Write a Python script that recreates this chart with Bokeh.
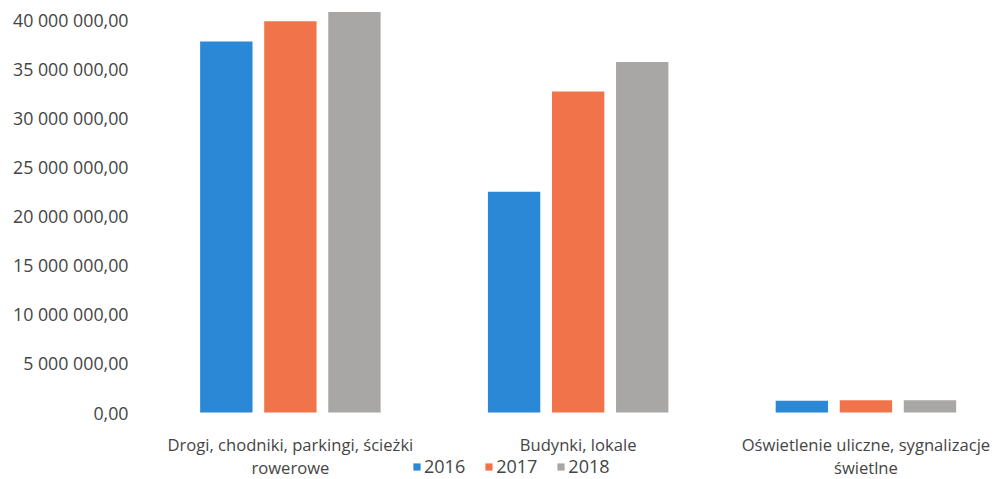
from bokeh.plotting import figure
from bokeh.models import ColumnDataSource, Range1d, FixedTicker, Legend, LegendItem
from bokeh.transform import dodge
from bokeh.core.properties import value
from bokeh.embed import file_html
from bokeh.resources import INLINE

categories = [
    "Drogi, chodniki, parkingi, ścieżki\nrowerowe",
    "Budynki, lokale",
    "Oświetlenie uliczne, sygnalizacje\nświetlne",
]
years = ["2016", "2017", "2018"]
v2016 = [37.8e6, 22.5e6, 1.2e6]
v2017 = [39.85e6, 32.7e6, 1.25e6]
v2018 = [40.8e6, 35.7e6, 1.25e6]
y_ticks = [0, 5e6, 10e6, 15e6, 20e6, 25e6, 30e6, 35e6, 40e6]

colors = ["#2b88d6", "#f1734a", "#a9a7a5"]
FONT = "Open Sans"
TXT = "#454545"

xs = [i + 0.5 for i in range(len(categories))]
src = ColumnDataSource(dict(x=xs, label=categories, base=[0] * len(categories),
                            y2016=v2016, y2017=v2017, y2018=v2018))

p = figure(width=1005, height=479, output_backend="svg", toolbar_location=None,
           x_range=Range1d(0, 2.985), y_range=Range1d(-6.825e6, 41.97e6),
           min_border_left=146, min_border_right=0, min_border_top=0, min_border_bottom=0)
p.outline_line_color = None
p.xgrid.visible = False
p.ygrid.visible = False
p.xaxis.visible = False
p.background_fill_color = "white"
p.border_fill_color = "white"

offsets = [-0.2226, 0.0, 0.2226]
renderers = []
for col, off, c in zip(["y2016", "y2017", "y2018"], offsets, colors):
    r = p.vbar(x=dodge("x", off, range=p.x_range), top=col, width=0.182,
               source=src, fill_color=c, line_color=None)
    renderers.append(r)

# category labels under the groups
p.text(x="x", y="base", text="label", source=src, text_align="center",
       text_baseline="top", y_offset=20, text_font=value(FONT),
       text_font_size="16.6px", text_color=TXT, text_line_height=1.0)

def fmt(v):
    return f"{v:,.2f}".replace(",", " ").replace(".", ",")

p.yaxis.ticker = FixedTicker(ticks=y_ticks)
p.yaxis.major_label_overrides = {t: fmt(t) for t in y_ticks}
p.yaxis.axis_line_color = None
p.yaxis.major_tick_line_color = None
p.yaxis.minor_tick_line_color = None
p.yaxis.major_label_text_font = FONT
p.yaxis.major_label_text_font_size = "17.8px"
p.yaxis.major_label_text_color = TXT
p.yaxis.major_label_standoff = 12

legend = Legend(items=[LegendItem(label=y, renderers=[r]) for y, r in zip(years, renderers)],
                orientation="horizontal", location=(266, 1))
legend.padding = 0
legend.margin = 0
legend.spacing = 19
legend.glyph_width = 9
legend.glyph_height = 9
legend.label_height = 16
legend.label_standoff = 3
legend.label_text_font = FONT
legend.label_text_font_size = "18px"
legend.label_text_color = TXT
legend.border_line_color = None
legend.background_fill_alpha = 0
p.add_layout(legend)

open("out.html", "w").write(file_html(p, INLINE))
